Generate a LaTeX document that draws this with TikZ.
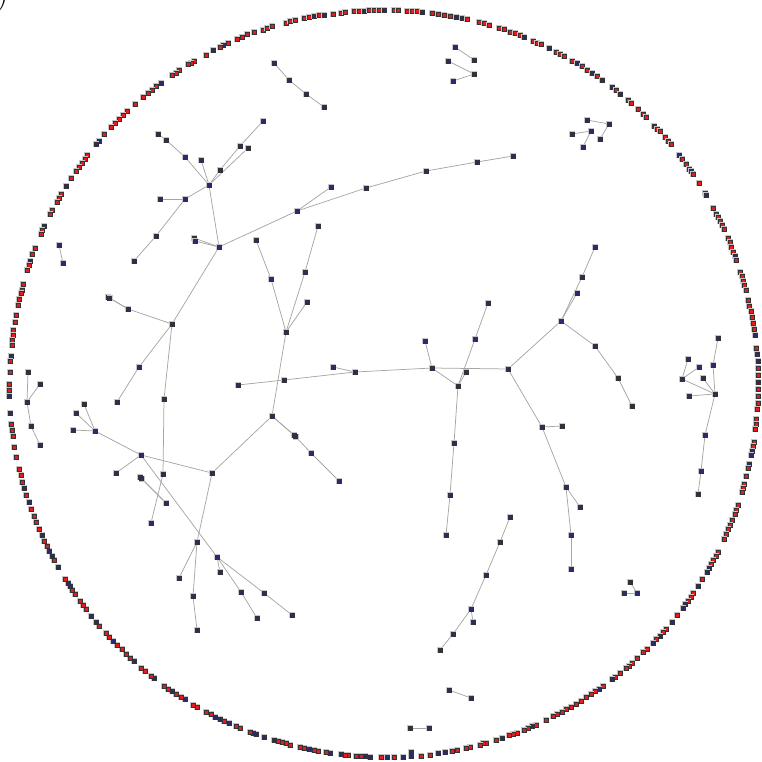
\documentclass[tikz,border=0pt]{standalone}
\usetikzlibrary{backgrounds}
\definecolor{r}{HTML}{E31D1D}
\definecolor{b}{HTML}{2A2B6E}
\tikzset{
  vtx/.style={rectangle, inner sep=0pt, minimum size=4.2pt, draw=black!80, line width=0.45pt,
    preaction={draw=gray!45, line width=1.8pt}},
  bnode/.style={vtx, fill=b},
  edge/.style={draw=gray!70, line width=0.75pt},
}
\begin{document}
\begin{tikzpicture}[x=1pt,y=-1pt]
\useasboundingbox (0,0) rectangle (762,762);
\node[anchor=base west, inner sep=0pt, font=\fontsize{36}{36}\selectfont] (lbl) at (-3.5,4) {)};
% ring of isolated vertices
\foreach [count=\i] \x/\y/\c in {
254/32/r,247/34/r,242/37/r,237/39/r,228/43/r,223/45/b,220/47/r,213/50/b,206/55/r,194/61/r,191/63/r,188/64/r,179/70/r,176/73/r,172/75/r,161/83/b,156/86/r,152/90/r,148/93/r,143/97/r,135/104/r,127/111/r,123/115/r,119/119/r,115/123/r,111/127/r,104/134/r,99/141/b,96/144/b,87/155/r,85/159/r,82/163/r,79/167/r,76/171/r,71/178/r,66/186/b,61/194/r,59/198/r,57/202/r,52/210/r,50/214/r,44/226/b,42/230/r,41/234/r,35/248/r,32/254/r,
263/30/r,267/28/r,272/26/r,286/23/r,290/21/r,295/20/r,304/18/r,309/17/r,314/16/b,319/15/r,324/15/b,333/14/r,341/13/r,345/12/r,354/11/r,359/11/r,364/11/b,369/10/r,374/10/r,379/10/r,384/10/b,394/10/r,398/10/r,407/11/r,412/11/r,417/11/r,422/12/b,432/13/r,438/14/r,444/15/r,450/16/r,456/17/b,462/18/b,467/19/r,479/22/r,484/23/r,489/25/r,499/28/r,504/29/r,
510/32/r,515/33/r,520/35/r,524/37/b,533/41/r,537/43/r,541/44/r,549/48/b,556/52/r,560/54/r,564/56/r,572/61/r,577/63/b,582/66/r,587/70/r,592/73/b,597/76/r,602/80/b,612/87/b,616/90/r,620/94/b,628/100/r,631/103/r,638/109/r,643/114/r,646/117/r,654/126/b,657/129/r,660/131/r,665/137/r,668/141/r,671/144/r,679/155/b,682/159/r,686/164/r,689/169/r,691/171/b,693/174/r,699/183/r,705/193/r,706/195/b,713/208/r,716/214/r,718/217/r,720/221/r,722/225/r,724/229/r,728/238/r,730/242/r,731/247/r,733/252/r,
735/256/b,736/260/r,740/272/r,742/276/r,743/281/r,744/285/r,746/290/r,748/300/r,749/306/r,751/311/r,752/317/r,753/323/r,754/329/r,755/335/b,756/348/r,757/354/b,758/361/b,758/368/r,758/375/r,758/382/b,758/389/r,758/396/r,758/403/r,757/409/r,756/419/r,756/424/r,755/429/r,754/442/r,753/446/r,752/451/b,751/455/b,749/464/b,748/468/r,746/476/r,744/484/r,743/488/r,742/492/r,738/505/r,
736/510/r,735/514/r,732/520/r,730/525/r,728/529/r,726/534/r,724/539/r,718/552/r,716/556/r,713/560/r,711/564/r,709/568/b,707/572/b,702/579/r,698/586/b,693/593/r,691/597/r,688/601/r,685/604/b,683/608/b,677/615/r,672/622/b,666/629/r,663/632/r,660/636/b,656/639/r,653/643/b,647/649/r,643/652/r,637/658/r,632/663/r,629/666/r,626/668/r,620/673/r,615/677/r,612/679/b,603/686/r,599/689/b,595/691/r,591/694/r,586/697/r,581/701/r,576/704/r,571/707/r,566/709/r,562/712/r,557/714/r,553/716/r,546/720/r,536/725/r,532/726/b,528/728/r,524/730/r,517/733/r,513/734/r,509/735/r,
502/738/b,496/740/r,486/743/r,483/743/r,480/745/r,470/747/r,466/748/r,457/750/r,452/751/r,445/752/b,438/753/b,430/755/r,421/756/r,411/756/b,411/752/b,403/757/b,394/757/r,387/757/b,381/757/r,370/757/b,365/756/b,361/756/r,356/756/r,348/755/r,345/755/r,341/754/b,330/753/b,326/752/r,318/751/r,314/750/r,309/749/b,304/748/r,300/747/r,290/745/r,286/743/r,282/742/r,278/741/r,274/740/b,264/737/b,256/734/b,
253/733/b,250/732/r,240/728/r,236/726/r,229/723/b,224/721/r,220/719/b,215/717/b,211/714/r,206/712/r,197/707/r,193/705/r,185/699/b,181/697/r,176/694/r,172/691/b,168/689/r,164/686/r,154/678/b,151/676/r,145/671/r,141/668/r,134/661/b,130/658/r,126/654/r,122/649/r,117/645/r,113/641/b,109/637/r,106/633/r,99/626/r,96/622/b,91/616/b,86/609/r,83/605/r,80/601/r,75/594/r,72/590/r,70/586/b,68/583/b,65/579/r,58/567/b,54/560/r,52/556/b,49/551/b,47/546/r,44/541/r,42/535/b,39/529/r,36/522/r,34/516/r,31/509/r,
30/261/b,29/265/r,27/270/r,23/284/r,22/290/r,21/293/r,19/299/r,18/305/r,16/315/r,15/322/r,13/330/r,13/335/r,12/340/r,12/345/r,11/356/b,10/361/r,10/372/r,9/384/r,9/390/r,9/396/b,10/413/b,11/424/r,12/430/r,13/436/r,14/447/r,16/457/r,19/469/r,21/475/r,22/482/r,24/488/b,26/495/r,29/502/b}
  \node[vtx, fill=\c] (ring\i) at (\x,\y) {};
% connected vertices
\foreach \n/\x/\y in {
A1/158/134,A2/166/140,A3/185/157,A4/201/160,H1/209/185,A5/220/170,A6/240/146,A7/248/148,A8/263/121,
A9/160/199,A10/185/199,A11/156/236,A13/134/261,A12a/194/238,A12b/195/241,H2/219/247,
B1/59/245,B2/63/263,
T1/274/63,T2/289/80,T3/306/94,T4/324/107,
U1/455/47,U2/474/60,U3/448/61,U4/474/74,U5/453/81,
H3/297/211,S1/331/187,S2/366/188,S3/426/171,S4/477/162,S5/513/156,
C1/256/240,C2/318/226,
V1/587/120,V2/609/124,V3/572/134,V4/591/131,V5/600/139,V6/583/147,
D1a/108/297,D1b/109.5/298,D2/128/309,H4/172/324,D3/139/367,D4/117/402,D5/164/399,D6/163/474,
E1/28/372,E2/40/384,E3/27/402,E4/31/426,E5/40/445,
F1/84/404,F2/76/413,F3/73/430,F4/95/431,H5/141/455,H6/212/473,F5/116/473,F6a/140/477,F6b/141.5/478.5,F7/166/503,
H7/197/542,G1/217/557,G2/220/572,G3/179/578,G4/193/596,G5/197/630,G6/241/592,G7/151/523,G8/264/593,G9/292/615,G10/257/618,
I1/271/279,I2/305/272,I3/307/302,H8/286/332,I4/284/380,I5/333/367,I6/355/372,L0/238/385,
H9/432/368,J1/425/341,H10/458/386,J2/466/372,J3/475/339,J4/488/303,H11/508/369,J5/454/443,J6/450/495,J7/446/535,
H12/272/416,K1a/294/435,K1b/295.5/436.5,K2/311/453,K3/339/481,
W0/595/247,W1/582/277,W2/577/293,H13/561/321,W3/595/346,W4/618/378,W5/632/406,H14/542/427,W6/562/426,W7/566/487,W8/580/507,W9/571/535,W10/571/569,
M1/718/338,M2/713/365,M3/688/359,M4/699/367,M5/682/379,M6/703/378,M7/715/394,M8/689/396,M9/705/435,M10/701/471,M11/698/494,
N1/630/582,N2/624/593,N3/637/593,
P0/510/517,P1/500/542,P2/486/575,P3/471/609,P4/473/622,P5/453/634,P6/440/650,
Q1/449/690,Q2/471/698,R1/410/728,R2/429/728}
  \node[bnode] (\n) at (\x,\y) {};
\begin{scope}[on background layer]
\foreach \a/\b in {
A1/A2,A2/A3,A3/H1,A4/H1,H1/A5,A5/A6,A6/A8,H1/A7,H1/A10,A10/A9,A10/A11,A11/A13,H1/H2,H2/A12a,H2/A12b,H2/H3,H2/H4,
B1/B2,T1/T2,T2/T3,T3/T4,U1/U2,U3/U4,U4/U5,
H3/S1,H3/S2,S2/S3,S3/S4,S4/S5,C1/I1,C2/I2,
V1/V2,V2/V5,V3/V4,V4/V6,
W0/W1,W1/H13,W2/H13,H13/W3,W3/W4,W4/W5,H13/H11,H11/H14,H14/W6,H14/W7,W7/W8,W7/W9,W9/W10,
D1a/D2,D1b/D2,D2/H4,H4/D3,D3/D4,H4/D5,D5/D6,D6/G7,
E1/E3,E2/E3,E3/E4,E4/E5,
F1/F4,F2/F4,F3/F4,F4/H5,H5/H6,H5/F5,H5/G1,F6a/F7,F6b/F7,
H6/H7,H6/H12,H7/G3,H7/G4,G4/G5,G1/G2,G1/G6,G6/G10,G1/G8,G8/G9,
I1/H8,I2/H8,I3/H8,H8/H12,L0/I4,I4/I6,I5/I6,I6/H9,H9/H11,H9/J1,H9/H10,H10/J2,H10/J3,J3/J4,H10/J5,J5/J6,J6/J7,
H12/K1a,H12/K1b,K1a/K2,K2/K3,
M1/M2,M2/M7,M5/M3,M5/M4,M5/M7,M6/M7,M8/M7,M7/M9,M9/M10,M10/M11,
N1/N3,N2/N3,P0/P1,P1/P2,P2/P3,P3/P4,P3/P5,P5/P6,Q1/Q2,R1/R2}
  \draw[edge] (\a) -- (\b);
\end{scope}
\end{tikzpicture}
\end{document}
